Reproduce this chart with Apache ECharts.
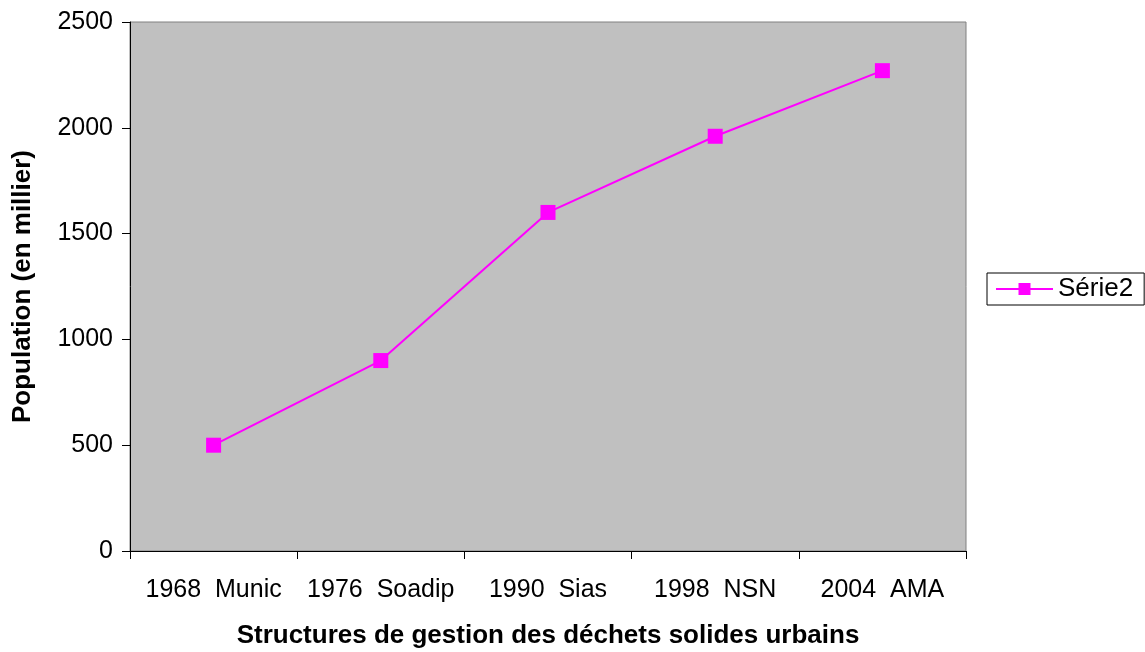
<!DOCTYPE html>
<html>
<head>
<meta charset="utf-8">
<script src="https://cdn.jsdelivr.net/npm/echarts@6/dist/echarts.min.js"></script>
<style>
  html, body { margin: 0; padding: 0; background: #fff; }
  #chart { width: 1145px; height: 652px; }
</style>
</head>
<body>
<div id="chart"></div>
<script>
// Population served by each solid-waste management structure
const categories = ['1968  Munic', '1976  Soadip', '1990  Sias', '1998  NSN', '2004  AMA'];
const population = [500, 900, 1600, 1960, 2270];
const seriesName = 'Série2';
const yTicks = { min: 0, max: 2500, interval: 500 };

const font = 'Liberation Sans, Arial, sans-serif';
const chart = echarts.init(document.getElementById('chart'), null, { renderer: 'canvas' });

chart.setOption({
  animation: false,
  backgroundColor: '#ffffff',
  textStyle: { fontFamily: font },
  grid: {
    left: 130, right: 179, top: 22, bottom: 101,
    outerBoundsMode: 'none',
    containLabel: false,
    show: true,
    backgroundColor: '#c0c0c0',
    borderColor: '#808080',
    borderWidth: 1
  },
  legend: {
    left: 987, top: 273,
    orient: 'vertical',
    padding: [3, 11, 3, 8],
    borderColor: '#000',
    borderWidth: 1,
    backgroundColor: '#fff',
    itemWidth: 57,
    itemHeight: 15,
    itemGap: 0,
    textStyle: { fontFamily: font, fontSize: 26, color: '#000', padding: [0, 0, 0, 0] },
    data: [seriesName]
  },
  xAxis: {
    type: 'category',
    data: categories,
    boundaryGap: true,
    name: 'Structures de gestion des déchets solides urbains',
    nameLocation: 'middle',
    nameGap: 72,
    nameTextStyle: { fontFamily: font, fontSize: 26, fontWeight: 'bold', color: '#000' },
    axisLine: { lineStyle: { color: '#000', width: 1 } },
    axisTick: { show: true, length: 8, lineStyle: { color: '#000' } },
    axisLabel: { interval: 0, fontFamily: font, fontSize: 25, color: '#000', margin: 27 },
    splitLine: { show: false }
  },
  yAxis: {
    type: 'value',
    min: yTicks.min, max: yTicks.max, interval: yTicks.interval,
    name: 'Population (en millier)',
    nameLocation: 'middle',
    nameGap: 94,
    nameTextStyle: { fontFamily: font, fontSize: 26, fontWeight: 'bold', color: '#000' },
    axisLine: { show: true, lineStyle: { color: '#000', width: 1 } },
    axisTick: { show: true, length: 8, lineStyle: { color: '#000' } },
    axisLabel: { fontFamily: font, fontSize: 25, color: '#000', margin: 17, formatter: v => String(v) },
    splitLine: { show: false }
  },
  series: [{
    name: seriesName,
    type: 'line',
    data: population,
    symbol: 'rect',
    symbolSize: 15,
    itemStyle: { color: '#ff00ff' },
    lineStyle: { color: '#ff00ff', width: 2 }
  }]
});
</script>
</body>
</html>
